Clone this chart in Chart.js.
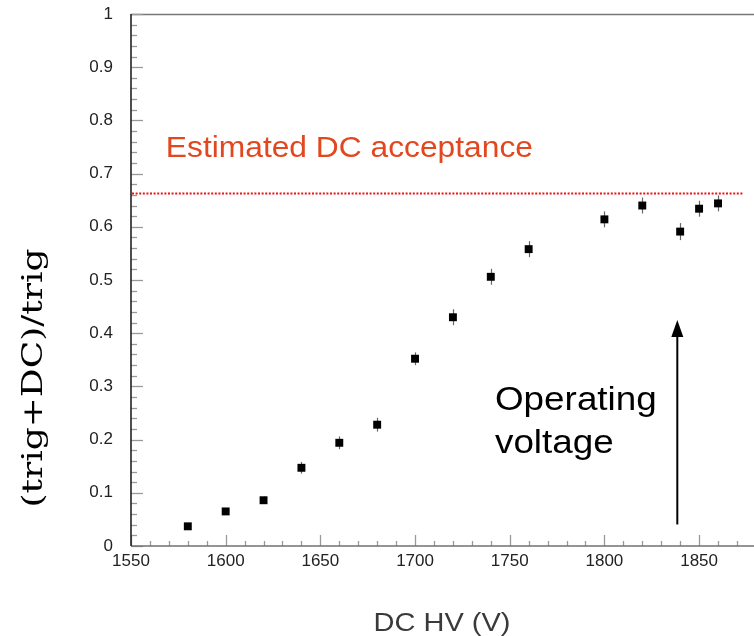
<!DOCTYPE html>
<html><head><meta charset="utf-8">
<script src="https://cdn.jsdelivr.net/npm/chart.js@4.4.1/dist/chart.umd.min.js"></script>
<style>html,body{margin:0;padding:0;background:#fff;}canvas{display:block;}</style>
</head><body>
<canvas id="c" width="754" height="636"></canvas>
<script>
// ---- data ----
const hv = [1580, 1600, 1620, 1640, 1660, 1680, 1700, 1720, 1740, 1760, 1800, 1820, 1840, 1850, 1860];
const ratio = [0.037, 0.065, 0.086, 0.147, 0.194, 0.228, 0.352, 0.430, 0.506, 0.558, 0.614, 0.640, 0.591, 0.634, 0.644];
const ratioErr = [0.005, 0.006, 0.007, 0.011, 0.012, 0.013, 0.012, 0.015, 0.015, 0.015, 0.015, 0.015, 0.016, 0.015, 0.015];
const xTickValues = [1550, 1600, 1650, 1700, 1750, 1800, 1850];
const xTickLabels = ['1550', '1600', '1650', '1700', '1750', '1800', '1850'];
const yTickValues = [0, 0.1, 0.2, 0.3, 0.4, 0.5, 0.6, 0.7, 0.8, 0.9, 1];
const yTickLabels = ['0', '0.1', '0.2', '0.3', '0.4', '0.5', '0.6', '0.7', '0.8', '0.9', '1'];
const acceptance = 0.6625;
const acceptanceRange = [1550, 1873.5];
const operatingHV = 1838.5;
const arrowRange = [0.0405, 0.4247];
const acceptanceText = 'Estimated DC acceptance';
const operatingText = ['Operating', 'voltage'];
const xTitle = 'DC HV (V)';
const yTitle = '(trig+DC)/trig';

const SANS = '"Liberation Sans", Arial, Helvetica, sans-serif';

function drawStretched(ctx, text, x, y, font, sx, color, align) {
  ctx.save();
  ctx.font = font;
  ctx.fillStyle = color;
  ctx.textAlign = align || 'left';
  ctx.textBaseline = 'alphabetic';
  ctx.translate(x, y);
  ctx.scale(sx, 1);
  ctx.fillText(text, 0, 0);
  ctx.restore();
}

const decor = {
  id: 'decor',
  beforeDatasetsDraw(chart) {
    const { ctx, chartArea: a, scales: { x, y } } = chart;
    ctx.save();
    // top frame
    ctx.strokeStyle = '#777'; ctx.lineWidth = 1.5;
    ctx.beginPath(); ctx.moveTo(a.left, a.top + 0.5); ctx.lineTo(a.right, a.top + 0.5); ctx.stroke();
    // y ticks (inward)
    ctx.strokeStyle = '#9a9a9a'; ctx.lineWidth = 1.3;
    for (let i = 0; i <= 50; i++) {
      const py = Math.round(y.getPixelForValue(i * 0.02)) + 0.5;
      const len = (i % 5 === 0) ? 12 : 6;
      ctx.beginPath(); ctx.moveTo(a.left, py); ctx.lineTo(a.left + len, py); ctx.stroke();
    }
    // x ticks (inward)
    for (let v = 1550; v <= 1870; v += 10) {
      const px = Math.round(x.getPixelForValue(v)) + 0.5;
      const len = (v % 50 === 0) ? 11 : 5;
      ctx.beginPath(); ctx.moveTo(px, a.bottom); ctx.lineTo(px, a.bottom - len); ctx.stroke();
    }
    // axes
    ctx.strokeStyle = '#707070'; ctx.lineWidth = 1.5;
    ctx.beginPath(); ctx.moveTo(a.left, a.bottom); ctx.lineTo(a.right, a.bottom); ctx.stroke();
    ctx.strokeStyle = '#222'; ctx.lineWidth = 1.6;
    ctx.beginPath(); ctx.moveTo(a.left, a.top); ctx.lineTo(a.left, a.bottom); ctx.stroke();
    // acceptance dotted line
    ctx.strokeStyle = '#ee1111'; ctx.lineWidth = 2; ctx.setLineDash([2, 1.6]);
    const ay = y.getPixelForValue(acceptance);
    ctx.beginPath(); ctx.moveTo(x.getPixelForValue(acceptanceRange[0]) + 1, ay); ctx.lineTo(x.getPixelForValue(acceptanceRange[1]), ay); ctx.stroke();
    ctx.setLineDash([]);
    // error bars
    ctx.strokeStyle = '#666'; ctx.lineWidth = 1.2;
    hv.forEach((h, i) => {
      const px = Math.round(x.getPixelForValue(h)) + 0.5;
      ctx.beginPath();
      ctx.moveTo(px, y.getPixelForValue(ratio[i] - ratioErr[i]));
      ctx.lineTo(px, y.getPixelForValue(ratio[i] + ratioErr[i]));
      ctx.stroke();
    });
    ctx.restore();
  },
  afterDatasetsDraw(chart) {
    const { ctx, scales: { x, y } } = chart;
    ctx.save();
    // arrow
    const ax = x.getPixelForValue(operatingHV);
    const yb = y.getPixelForValue(arrowRange[0]);
    const yt = y.getPixelForValue(arrowRange[1]);
    ctx.strokeStyle = '#000'; ctx.fillStyle = '#000'; ctx.lineWidth = 2;
    ctx.beginPath(); ctx.moveTo(ax, yb); ctx.lineTo(ax, yt + 12); ctx.stroke();
    ctx.beginPath(); ctx.moveTo(ax, yt); ctx.lineTo(ax - 6, yt + 17); ctx.lineTo(ax + 6, yt + 17); ctx.closePath(); ctx.fill();
    ctx.restore();
    // annotation texts
    drawStretched(ctx, acceptanceText, x.getPixelForValue(1568.4), y.getPixelForValue(0.731), '29px ' + SANS, 1.095, '#e2471f');
    drawStretched(ctx, operatingText[0], x.getPixelForValue(1742.2), y.getPixelForValue(0.2552), '33.5px ' + SANS, 1.1, '#000');
    drawStretched(ctx, operatingText[1], x.getPixelForValue(1742.2), y.getPixelForValue(0.1742), '33.5px ' + SANS, 1.1, '#000');
    // axis titles
    drawStretched(ctx, xTitle, 442, 631, '25px ' + SANS, 1.16, '#3a3a3a', 'center');
    ctx.save();
    ctx.font = '27px "DejaVu Serif", "Liberation Serif", serif';
    const w = ctx.measureText(yTitle).width;
    ctx.translate(42, 378);
    ctx.rotate(-Math.PI / 2);
    ctx.scale(259 / w, 1);
    ctx.fillStyle = '#000';
    ctx.textAlign = 'center';
    ctx.textBaseline = 'alphabetic';
    ctx.fillText(yTitle, 0, 0);
    ctx.restore();
  }
};

new Chart(document.getElementById('c'), {
  type: 'scatter',
  data: {
    datasets: [{
      data: hv.map((h, i) => ({ x: h, y: ratio[i] })),
      pointStyle: 'rect',
      pointRadius: 5.6,
      pointHoverRadius: 5.6,
      backgroundColor: '#000',
      borderColor: '#000',
      borderWidth: 0,
      showLine: false
    }]
  },
  options: {
    responsive: false,
    animation: false,
    events: [],
    layout: { autoPadding: false, padding: { top: 14, right: 0, left: 0, bottom: 0 } },
    plugins: { legend: { display: false }, tooltip: { enabled: false } },
    scales: {
      x: {
        type: 'linear', min: 1550, max: 1879,
        afterFit(s) { s.height = 90; s.paddingLeft = 0; s.paddingRight = 0; },
        afterBuildTicks(s) { s.ticks = xTickValues.map(v => ({ value: v })); },
        grid: { display: false, drawTicks: false },
        border: { display: false },
        ticks: {
          padding: 5, autoSkip: false, maxRotation: 0,
          color: '#222', font: { size: 17, family: SANS },
          callback(v) { const i = xTickValues.indexOf(v); return i >= 0 ? xTickLabels[i] : ''; }
        }
      },
      y: {
        type: 'linear', min: 0, max: 1,
        afterFit(s) { s.width = 131; s.paddingTop = 0; s.paddingBottom = 0; },
        afterBuildTicks(s) { s.ticks = yTickValues.map(v => ({ value: v })); },
        grid: { display: false, drawTicks: false },
        border: { display: false },
        ticks: {
          padding: 18, autoSkip: false,
          color: '#222', font: { size: 17, family: SANS },
          callback(v) { const i = yTickValues.findIndex(t => Math.abs(t - v) < 1e-9); return i >= 0 ? yTickLabels[i] : ''; }
        }
      }
    }
  },
  plugins: [decor]
});
</script>
</body></html>
